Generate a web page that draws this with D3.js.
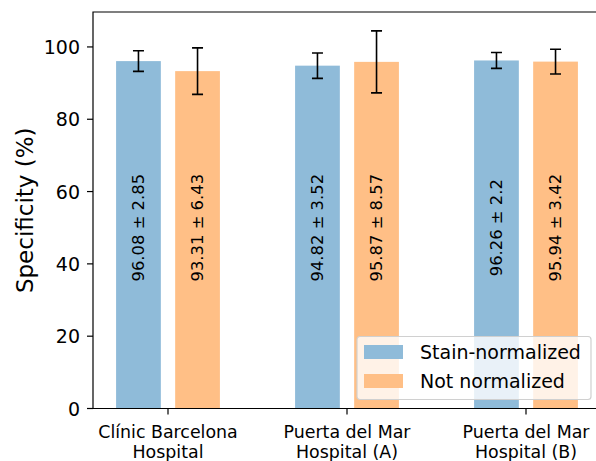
<!DOCTYPE html>
<html lang='en'>
	<head>
		<meta charset='utf-8'>
		<title>Specificity per hospital</title>
		<script type='text/javascript' src='https://cdn.jsdelivr.net/npm/d3@7'></script>
		<style>
			body { margin: 0; background: #fff; }
			text { font-family: 'DejaVu Sans', sans-serif; fill: #000; }
		</style>
	</head>
	<body>
		<script type='text/javascript'>
		// data
		var hospitals = [['Clínic Barcelona', 'Hospital'], ['Puerta del Mar', 'Hospital (A)'], ['Puerta del Mar', 'Hospital (B)']];
		var series_names = ['Stain-normalized', 'Not normalized'];
		var stain_mean = [96.08, 94.82, 96.26];
		var stain_err = [2.85, 3.52, 2.2];
		var plain_mean = [93.31, 95.87, 95.94];
		var plain_err = [6.43, 8.57, 3.42];
		var y_ticks = [0, 20, 40, 60, 80, 100];
		var bar_labels = [['96.08 ± 2.85', '94.82 ± 3.52', '96.26 ± 2.2'], ['93.31 ± 6.43', '95.87 ± 8.57', '95.94 ± 3.42']];

		{
			var width = 596, height = 461;
			var p_left = 93, p_top = 12, p_bottom = 408.5, p_right = 601;
			var colors = ['#8fbbd9', '#ffbf86'];
			var offsets = [-0.165, 0.165], bar_w = 0.25;

			var svg = d3.select('body').append('svg').attr('width', width).attr('height', height)

			var x = d3.scaleLinear().domain([-0.419, 2.419]).range([p_left, p_right])
			var y = d3.scaleLinear().domain([0, 104.44 * 1.05]).range([p_bottom, p_top])

			var rows = [];
			[[stain_mean, stain_err], [plain_mean, plain_err]].forEach(function(s, si) {
				s[0].forEach(function(v, i) {
					rows.push({s: si, i: i, v: v, e: s[1][i], label: bar_labels[si][i]});
				});
			});

			svg.append('clipPath').attr('id', 'clip').append('rect')
				.attr('x', p_left).attr('y', p_top).attr('width', p_right - p_left).attr('height', p_bottom - p_top)
			var plot = svg.append('g').attr('clip-path', 'url(#clip)')

			plot.selectAll('rect.bar').data(rows).enter().append('rect').attr('class', 'bar')
				.attr('x', d => x(d.i + offsets[d.s] - bar_w / 2))
				.attr('width', d => x(bar_w) - x(0))
				.attr('y', d => y(d.v))
				.attr('height', d => y(0) - y(d.v))
				.attr('fill', d => colors[d.s])

			// error bars
			var eb = plot.selectAll('g.err').data(rows).enter().append('g').attr('class', 'err')
				.attr('stroke', '#000').attr('stroke-width', 1.6)
			eb.append('line')
				.attr('x1', d => x(d.i + offsets[d.s])).attr('x2', d => x(d.i + offsets[d.s]))
				.attr('y1', d => y(d.v - d.e)).attr('y2', d => y(d.v + d.e))
			eb.append('line')
				.attr('x1', d => x(d.i + offsets[d.s]) - 5.5).attr('x2', d => x(d.i + offsets[d.s]) + 5.5)
				.attr('y1', d => y(d.v - d.e)).attr('y2', d => y(d.v - d.e))
			eb.append('line')
				.attr('x1', d => x(d.i + offsets[d.s]) - 5.5).attr('x2', d => x(d.i + offsets[d.s]) + 5.5)
				.attr('y1', d => y(d.v + d.e)).attr('y2', d => y(d.v + d.e))

			// rotated value labels
			plot.selectAll('text.val').data(rows).enter().append('text').attr('class', 'val')
				.attr('transform', d => 'translate(' + x(d.i + offsets[d.s]) + ',' + y(50) + ') rotate(-90)')
				.attr('text-anchor', 'middle').attr('dominant-baseline', 'central')
				.style('font-size', '16.4px')
				.text(d => d.label)

			// axes
			var ax = svg.append('g').attr('stroke', '#000').attr('stroke-width', 1.2).attr('fill', 'none')
			ax.append('path').attr('d', 'M' + p_left + ',' + p_bottom + 'V' + p_top + 'H' + p_right)
			ax.append('path').attr('d', 'M' + p_left + ',' + p_bottom + 'H' + p_right)

			var yt = svg.selectAll('g.yt').data(y_ticks).enter().append('g').attr('class', 'yt')
				.attr('transform', d => 'translate(0,' + y(d) + ')')
			yt.append('line').attr('x1', p_left - 6).attr('x2', p_left).attr('stroke', '#000').attr('stroke-width', 1.2)
			yt.append('text').attr('x', p_left - 13).attr('text-anchor', 'end').attr('dominant-baseline', 'central')
				.style('font-size', '19px').text(d => d)

			var xt = svg.selectAll('g.xt').data(hospitals).enter().append('g').attr('class', 'xt')
				.attr('transform', (d, i) => 'translate(' + x(i) + ',' + p_bottom + ')')
			xt.append('line').attr('y1', 0).attr('y2', 6).attr('stroke', '#000').attr('stroke-width', 1.2)
			xt.append('text').attr('text-anchor', 'middle').style('font-size', '17.4px')
				.selectAll('tspan').data(d => d).enter().append('tspan')
				.attr('x', 0).attr('y', (d, j) => 29 + j * 20.5).text(d => d)

			svg.append('text').attr('transform', 'translate(33,' + ((p_top + p_bottom) / 2) + ') rotate(-90)')
				.attr('text-anchor', 'middle').style('font-size', '23px').text('Specificity (%)')

			// legend
			var lg = svg.append('g').attr('transform', 'translate(357,336.5)')
			lg.append('rect').attr('width', 234).attr('height', 63).attr('rx', 3)
				.attr('fill', 'rgba(255,255,255,0.8)').attr('stroke', '#d0d0d0').attr('stroke-width', 1.2)
			var li = lg.selectAll('g.li').data(series_names).enter().append('g').attr('class', 'li')
				.attr('transform', (d, i) => 'translate(7,' + (8.5 + i * 29) + ')')
			li.append('rect').attr('width', 39).attr('height', 14).attr('fill', (d, i) => colors[i])
			li.append('text').attr('x', 56).attr('y', 7).attr('dominant-baseline', 'central')
				.style('font-size', '19px').text(d => d)
		}
		</script>
	</body>
</html>
